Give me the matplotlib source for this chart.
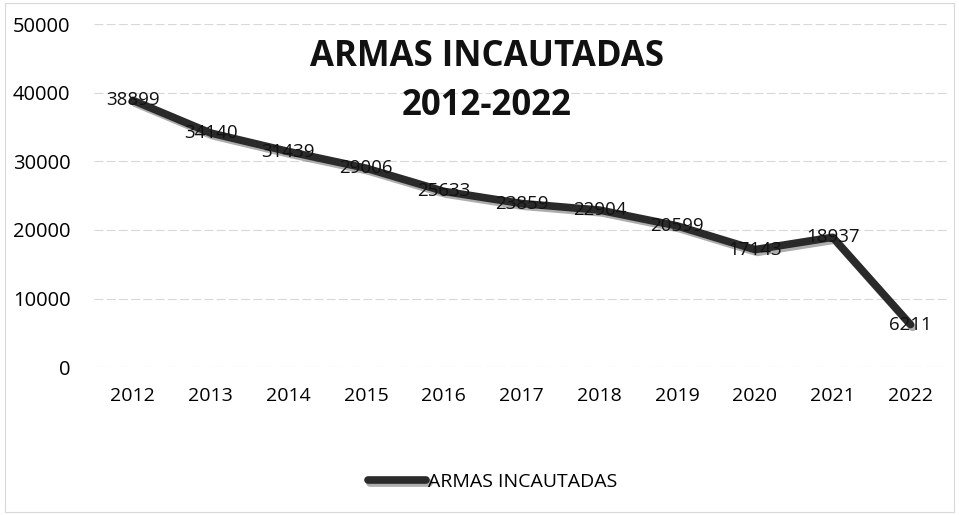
import matplotlib
matplotlib.use("Agg")
import matplotlib.pyplot as plt
import matplotlib.patheffects as pe
from matplotlib.patches import Rectangle

years = ["2012", "2013", "2014", "2015", "2016", "2017", "2018", "2019", "2020", "2021", "2022"]
armas = [38899, 34140, 31439, 29006, 25633, 23859, 22904, 20599, 17143, 18937, 6211]
y_ticks = [0, 10000, 20000, 30000, 40000, 50000]

plt.rcParams['font.family'] = ['Open Sans', 'DejaVu Sans']

fig = plt.figure(figsize=(9.59, 5.15), dpi=100)
ax = fig.add_axes([0.098, 0.287, 0.892, 0.666])

x = list(range(len(years)))
ax.plot(x, armas, color="#2a2a2a", lw=5.5, solid_capstyle="round", solid_joinstyle="round",
        label="ARMAS INCAUTADAS",
        path_effects=[pe.SimpleLineShadow(offset=(1.5, -2), shadow_color="#777777", alpha=0.6),
                      pe.Normal()])

for xi, v in zip(x, armas):
    ax.text(xi, v, str(v), ha="center", va="center", fontsize=13.5, color="#111111")

ax.set_xlim(-0.5, len(years) - 0.5)
ax.set_ylim(0, 50000)
ax.set_yticks(y_ticks)
ax.set_yticklabels([str(t) for t in y_ticks], fontsize=14.5)
ax.set_xticks(x)
ax.set_xticklabels(years, fontsize=14)
ax.tick_params(length=0)
ax.tick_params(axis="x", pad=14)
ax.tick_params(axis="y", pad=17)
ax.grid(axis="y", color="#d8d8d8", lw=0.8, ls=(0, (8, 3)))
ax.set_axisbelow(True)
for s in ax.spines.values():
    s.set_visible(False)

fig.text(0.508, 0.842, "ARMAS INCAUTADAS\n2012-2022", ha="center", va="center",
         fontsize=25, fontweight="bold", linespacing=1.5, color="#111111")

leg = fig.legend(loc="center", bbox_to_anchor=(0.514, 0.064), frameon=False,
                 fontsize=14, handlelength=3.0, handletextpad=0.1)

fig.patches.append(Rectangle((0.005, 0.005), 0.99, 0.99, transform=fig.transFigure,
                             fill=False, edgecolor="#d8d8d8", lw=0.8))

fig.savefig("out.png", dpi=100)
